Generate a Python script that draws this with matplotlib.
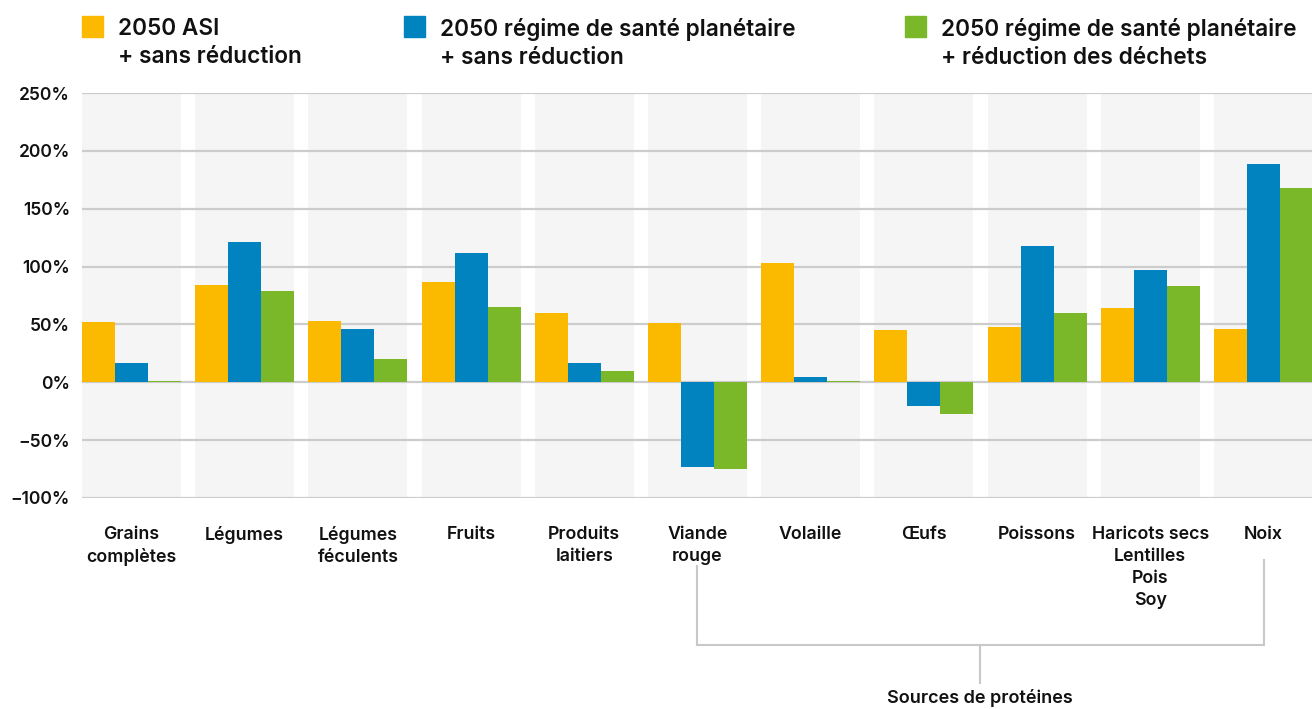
import numpy as np
import matplotlib.pyplot as plt
from matplotlib.patches import Rectangle
from matplotlib.lines import Line2D

plt.rcParams['font.family'] = ['Inter', 'DejaVu Sans']

categories = ["Grains\ncomplètes", "Légumes", "Légumes\nféculents", "Fruits",
              "Produits\nlaitiers", "Viande\nrouge", "Volaille", "Œufs",
              "Poissons", "Haricots secs\nLentilles\nPois\nSoy", "Noix"]
asi = [52, 84, 53, 87, 60, 51, 103, 45, 48, 64, 46]
sante = [17, 121, 46, 112, 17, -73, 4.5, -20.5, 118, 97, 189]
sante_red = [1.5, 79, 20, 65, 10, -75, 1.5, -27, 60, 83, 168]
series = [asi, sante, sante_red]
names = ["2050 ASI\n+ sans réduction",
         "2050 régime de santé planétaire\n+ sans réduction",
         "2050 régime de santé planétaire\n+ réduction des déchets"]
colors = ["#FBB900", "#0083BE", "#7AB829"]
yticks = [-100, -50, 0, 50, 100, 150, 200, 250]

W, H = 1312, 709
fig = plt.figure(figsize=(W / 100, H / 100), dpi=100)
ax = fig.add_axes([82 / W, 1 - 498 / H, 1231 / W, 405 / H])

n = len(categories)
x = np.arange(n)
w = 99 / 113.2
bw = w / 3

for i in x:
    ax.axvspan(i - w / 2, i + w / 2, color="#F5F5F5", zorder=0, lw=0)
for t in yticks:
    ax.axhline(t, color="#CCCCCC", lw=1.6, zorder=1)
for k, vals in enumerate(series):
    ax.bar(x + (k - 1) * bw, vals, width=bw, color=colors[k], zorder=2, lw=0)

ax.set_xlim(-w / 2, n - 1 + w / 2)
ax.set_ylim(-100, 250)
ax.set_yticks(yticks)
ax.set_yticklabels([("\u2212" if t < 0 else "") + f"{abs(t)}%" for t in yticks],
                   fontsize=12.5, fontweight="semibold", color="#111111")
ax.set_xticks(x)
ax.set_xticklabels(categories, fontsize=12.8, fontweight="semibold",
                   color="#111111", linespacing=1.38)
ax.tick_params(axis="both", length=0)
ax.tick_params(axis="x", pad=20)
ax.tick_params(axis="y", pad=8.5)
for s in ax.spines.values():
    s.set_visible(False)

# legend
leg_x = [82, 404, 905]
for k in range(3):
    fig.patches.append(Rectangle((leg_x[k] / W, 1 - 37 / H), 21 / W, 21 / H,
                                 transform=fig.transFigure, color=colors[k]))
    fig.text((leg_x[k] + 36) / W, 1 - 18 / H, names[k], fontsize=16.3,
             fontweight="semibold", va="top", ha="left", linespacing=1.38,
             color="#111111")

# bracket for protein sources
lc = "#C8C8C8"
xl, xr, xm = 697, 1264, 980
yb = 645
for xs, ys in [([xl, xl], [566, yb]), ([xr, xr], [560, yb]),
               ([xl, xr], [yb, yb]), ([xm, xm], [yb, 683])]:
    fig.add_artist(Line2D([v / W for v in xs], [1 - v / H for v in ys],
                          transform=fig.transFigure, color=lc, lw=1.5))
fig.text(xm / W, 1 - 698 / H, "Sources de protéines", fontsize=13,
         fontweight="semibold", ha="center", va="center", color="#111111")

fig.savefig("out.png", dpi=100)
